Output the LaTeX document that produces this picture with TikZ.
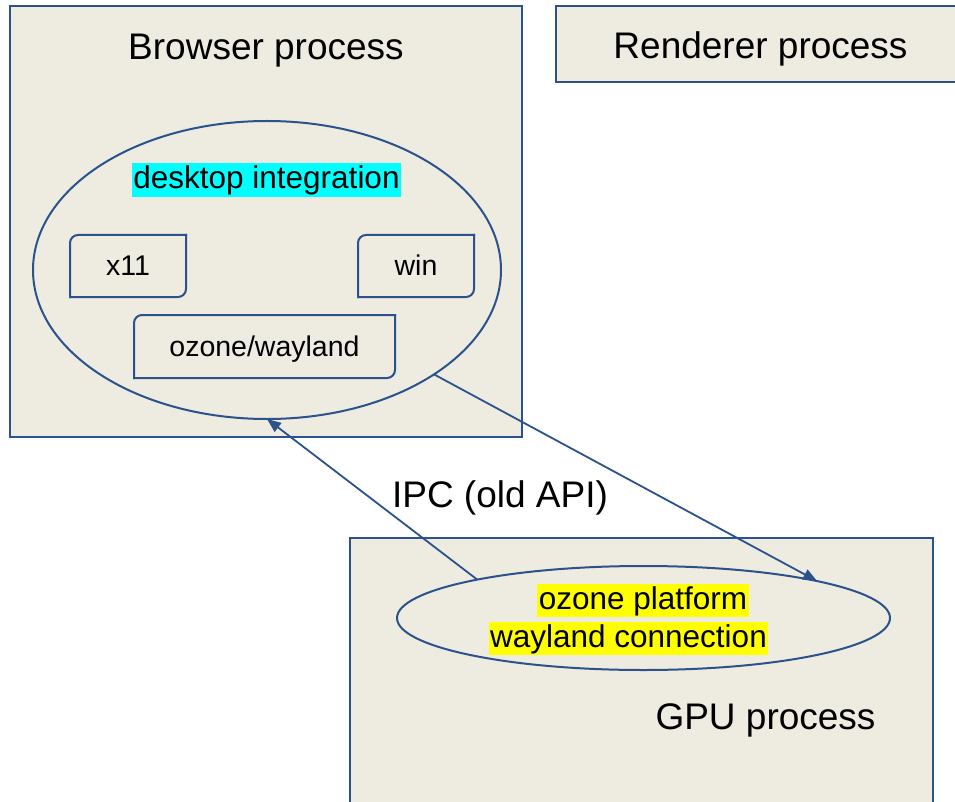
\documentclass[tikz,border=0pt]{standalone}
\usepackage{fontspec}
\setmainfont{Liberation Sans}
\usetikzlibrary{arrows.meta,shapes.geometric}

\definecolor{procfill}{RGB}{238,236,225}
\definecolor{procline}{RGB}{44,82,140}
\definecolor{markcyan}{RGB}{0,255,255}
\definecolor{markyellow}{RGB}{255,255,0}

\newcommand{\tabframe}[1]{%
  \draw[tabline] (#1.north east) -- (#1.north west) -- (#1.south west);
  \draw[tabline] (#1.south west) -- (#1.south east) -- (#1.north east);}

\begin{document}
\begin{tikzpicture}[
    x=1pt, y=-1pt,
    process/.style={draw=procline, fill=procfill, line width=2.2pt, inner sep=0pt, outer sep=0pt},
    title/.style={anchor=base, inner sep=0pt, font=\fontsize{37}{40}\selectfont},
    blob/.style={ellipse, draw=procline, line width=2pt, inner sep=0pt, outer sep=0pt},
    tabbox/.style={fill=procfill, inner sep=0pt, outer sep=0pt, text height=20pt, text depth=0pt, font=\fontsize{28.5}{32}\selectfont},
    tabline/.style={draw=procline, line width=2pt, rounded corners=8pt, line cap=rect},
    marked/.style={anchor=base, inner xsep=1.5pt, inner ysep=0pt, text height=25.5pt, text depth=8pt, font=\fontsize{31.5}{34}\selectfont},
    ipcarrow/.style={-{Triangle[length=14pt,width=11pt]}, draw=procline, line width=1.8pt}
]
\clip (0,0) rectangle (955,802);
\fill[white] (0,0) rectangle (955,802);

\node[process, minimum width=512pt, minimum height=431pt] (browser) at (266,221.5) {};
\node[process, minimum width=409pt, minimum height=76pt] (renderer) at (760.5,44) {};
\node[process, minimum width=583pt, minimum height=292pt] (gpu) at (641.5,684) {};

\node[title] (browsertitle) at (266,60) {Browser process};
\node[title] (renderertitle) at (760.5,59) {Renderer process};
\node[title] (gputitle) at (765.5,729) {GPU process};

\node[blob, minimum width=468pt, minimum height=298pt] (desk) at (267,270) {};
\node[marked, fill=markcyan] (desktitle) at (266.5,189) {desktop integration};

\node[tabbox, minimum width=116pt, minimum height=62pt] (x11) at (128,266) {x11};
\node[tabbox, minimum width=116pt, minimum height=62pt] (win) at (416,266) {win};
\node[tabbox, minimum width=261pt, minimum height=63pt] (ozone) at (264.5,346.5) {ozone/wayland};
\tabframe{x11}
\tabframe{win}
\tabframe{ozone}

\node[blob, minimum width=493pt, minimum height=104pt] (conn) at (643.5,618) {};
\node[marked, fill=markyellow] (connline1) at (643,609) {ozone platform};
\node[marked, fill=markyellow] (connline2) at (628.5,647) {wayland connection};

\node[title] (ipc) at (500,507) {IPC (old API)};

\draw[ipcarrow] (conn.167) -- (desk.south);
\draw[ipcarrow] (desk.328) -- (conn.12);
\end{tikzpicture}
\end{document}
